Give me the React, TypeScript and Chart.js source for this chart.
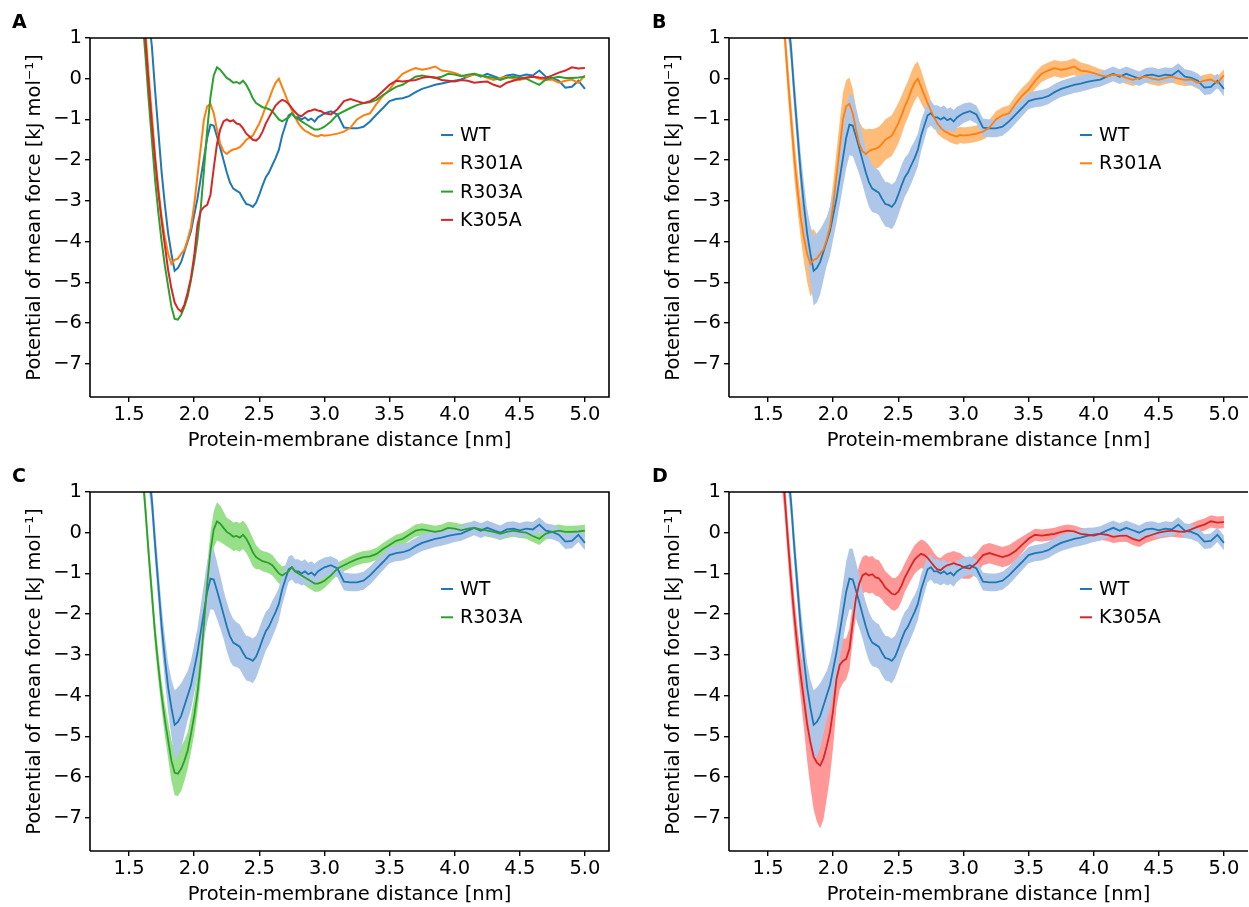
import React, { useEffect, useRef } from "react";
import { Chart, registerables } from "chart.js";
Chart.register(...registerables);

// Protein-membrane distance grid [nm]
const xGrid = [
  1.6, 1.625, 1.65, 1.675, 1.7, 1.725, 1.75, 1.775, 1.8, 1.825, 1.85, 1.875, 1.9, 1.925, 1.95, 1.975,
  2.0, 2.025, 2.05, 2.075, 2.1, 2.125, 2.15, 2.175, 2.2, 2.225, 2.25, 2.275, 2.3, 2.325, 2.35, 2.375,
  2.4, 2.425, 2.45, 2.475, 2.5, 2.525, 2.55, 2.575, 2.6, 2.625, 2.65, 2.675, 2.7, 2.725, 2.75, 2.775,
  2.8, 2.825, 2.85, 2.875, 2.9, 2.925, 2.95, 2.975, 3.0,
  3.05, 3.1, 3.15, 3.2, 3.25, 3.3, 3.35, 3.4, 3.45, 3.5, 3.55, 3.6, 3.65, 3.7, 3.75, 3.8, 3.85, 3.9, 3.95,
  4.0, 4.05, 4.1, 4.15, 4.2, 4.25, 4.3, 4.35, 4.4, 4.45, 4.5, 4.55, 4.6, 4.65, 4.7, 4.75, 4.8, 4.85, 4.9, 4.95, 5.0,
];

const wt = [
  3.0, 2.2, 1.5, 0.8, -0.3, -1.3, -2.3, -3.1, -3.8, -4.3, -4.72, -4.65, -4.5, -4.25, -4.0, -3.75,
  -3.35, -2.95, -2.45, -1.95, -1.45, -1.13, -1.15, -1.42, -1.7, -2.0, -2.3, -2.55, -2.7, -2.75, -2.8, -2.95,
  -3.08, -3.1, -3.15, -3.05, -2.85, -2.62, -2.42, -2.3, -2.12, -1.95, -1.75, -1.4, -1.15, -0.9, -0.85, -0.95,
  -0.95, -1.0, -0.95, -1.02, -0.98, -1.05, -0.95, -0.9, -0.85,
  -0.8, -0.88, -1.2, -1.22, -1.22, -1.18, -1.05, -0.88, -0.72, -0.55, -0.5, -0.48, -0.43, -0.33, -0.25, -0.2, -0.15, -0.12, -0.08,
  -0.05, -0.02, 0.05, 0.12, 0.05, 0.12, 0.06, 0.0, 0.08, 0.1, 0.06, 0.1, 0.08, 0.2, 0.05, 0.02, -0.05, -0.22, -0.2, -0.05, -0.25,
];

const r301a = [
  2.2, 1.2, 0.1, -0.9, -1.9, -2.7, -3.4, -3.9, -4.3, -4.55, -4.45, -4.42, -4.3, -4.2, -3.95, -3.65,
  -3.1, -2.4, -1.7, -1.0, -0.68, -0.62, -0.85, -1.25, -1.6, -1.78, -1.85, -1.78, -1.74, -1.72, -1.68, -1.6,
  -1.5, -1.45, -1.4, -1.25, -1.1, -0.9, -0.68, -0.5, -0.28, -0.1, 0.0, -0.2, -0.4, -0.6, -0.78, -0.95,
  -1.1, -1.2, -1.28, -1.32, -1.37, -1.4, -1.42, -1.38, -1.4,
  -1.38, -1.35, -1.3, -1.2, -1.0, -0.9, -0.85, -0.62, -0.42, -0.27, -0.05, 0.12, 0.2, 0.26, 0.22, 0.25, 0.3, 0.2, 0.18,
  0.14, 0.08, 0.05, 0.1, 0.08, 0.02, -0.03, 0.02, 0.05, 0.0, -0.03, 0.02, 0.05, 0.0, -0.03, -0.02, -0.1, -0.05, -0.02, -0.1, 0.08,
];

const r303a = [
  1.6, 0.6, -0.5, -1.5, -2.5, -3.3, -4.0, -4.6, -5.1, -5.6, -5.9, -5.92, -5.8, -5.6, -5.35, -4.95,
  -4.5, -3.95, -3.2, -2.25, -1.25, -0.45, 0.08, 0.28, 0.22, 0.12, 0.02, -0.03, -0.1, -0.08, -0.12, -0.05,
  -0.15, -0.3, -0.48, -0.6, -0.65, -0.7, -0.72, -0.75, -0.8, -0.9, -1.0, -1.05, -1.0, -0.95, -0.85, -0.95,
  -1.0, -1.05, -1.1, -1.15, -1.2, -1.25, -1.25, -1.22, -1.18,
  -1.05, -0.88, -0.8, -0.72, -0.65, -0.6, -0.58, -0.52, -0.4, -0.3, -0.2, -0.15, -0.05, 0.05, 0.08, 0.05, 0.02, 0.05, 0.12,
  0.1, 0.06, 0.1, 0.12, 0.08, 0.05, 0.02, -0.03, 0.02, 0.05, 0.02, 0.0, -0.08, -0.15, -0.02, 0.02, 0.05, 0.02, 0.02, 0.03, 0.05,
];

const k305a = [
  1.8, 1.0, -0.1, -1.1, -2.0, -2.8, -3.5, -4.1, -4.7, -5.15, -5.5, -5.65, -5.72, -5.55, -5.25, -4.9,
  -4.35, -3.6, -3.25, -3.15, -3.1, -2.85, -2.2, -1.6, -1.25, -1.05, -1.0, -1.05, -1.02, -1.1, -1.12, -1.22,
  -1.35, -1.42, -1.5, -1.52, -1.45, -1.3, -1.1, -0.95, -0.8, -0.66, -0.58, -0.52, -0.55, -0.62, -0.72, -0.82,
  -0.9, -0.92, -0.85, -0.8, -0.78, -0.75, -0.78, -0.8, -0.85,
  -0.88, -0.75, -0.55, -0.5, -0.55, -0.6, -0.55, -0.45, -0.3, -0.15, -0.05, -0.07, -0.05, -0.03, 0.02, 0.05, 0.03, -0.03, -0.05,
  -0.07, -0.03, -0.05, -0.1, -0.08, -0.07, -0.15, -0.2, -0.1, -0.05, 0.0, 0.03, 0.05, 0.03, 0.02, 0.08, 0.15, 0.2, 0.28, 0.25, 0.26,
];

// half-widths of the shaded uncertainty bands
const wtErr = [
  0.4, 0.4, 0.4, 0.4, 0.45, 0.45, 0.5, 0.55, 0.6, 0.7, 0.85, 0.85, 0.8, 0.7, 0.6, 0.6,
  0.6, 0.6, 0.65, 0.7, 0.75, 0.75, 0.75, 0.7, 0.65, 0.6, 0.6, 0.6, 0.58, 0.55, 0.55, 0.55,
  0.55, 0.55, 0.55, 0.52, 0.5, 0.5, 0.48, 0.45, 0.45, 0.42, 0.4, 0.38, 0.35, 0.32, 0.3, 0.3,
  0.3, 0.3, 0.3, 0.28, 0.28, 0.28, 0.26, 0.25, 0.24,
  0.22, 0.22, 0.22, 0.22, 0.22, 0.22, 0.22, 0.22, 0.2, 0.2, 0.2, 0.2, 0.2, 0.2, 0.2, 0.2, 0.2, 0.2, 0.2,
  0.18, 0.18, 0.18, 0.18, 0.18, 0.18, 0.18, 0.18, 0.18, 0.18, 0.18, 0.18, 0.18, 0.18, 0.18, 0.18, 0.18, 0.18, 0.18, 0.18, 0.18,
];

const r301aErr = [
  0.4, 0.4, 0.45, 0.45, 0.5, 0.5, 0.5, 0.6, 0.7, 0.8, 0.75, 0.6, 0.5, 0.5, 0.5, 0.5,
  0.55, 0.6, 0.65, 0.65, 0.65, 0.65, 0.6, 0.55, 0.55, 0.58, 0.6, 0.55, 0.5, 0.5, 0.5, 0.5,
  0.5, 0.5, 0.5, 0.5, 0.5, 0.48, 0.45, 0.45, 0.45, 0.45, 0.42, 0.4, 0.35, 0.3, 0.25, 0.25,
  0.25, 0.22, 0.2, 0.2, 0.2, 0.2, 0.2, 0.2, 0.2,
  0.2, 0.2, 0.2, 0.2, 0.2, 0.2, 0.2, 0.2, 0.2, 0.2, 0.2, 0.2, 0.2, 0.2, 0.2, 0.2, 0.2, 0.2, 0.18,
  0.16, 0.15, 0.15, 0.15, 0.15, 0.15, 0.15, 0.15, 0.15, 0.15, 0.15, 0.15, 0.15, 0.15, 0.15, 0.15, 0.15, 0.15, 0.15, 0.15, 0.15,
];

const r303aErr = [
  0.35, 0.35, 0.35, 0.35, 0.35, 0.35, 0.35, 0.4, 0.45, 0.5, 0.55, 0.55, 0.55, 0.5, 0.45, 0.45,
  0.45, 0.45, 0.45, 0.45, 0.45, 0.45, 0.45, 0.47, 0.45, 0.4, 0.35, 0.35, 0.35, 0.35, 0.35, 0.35,
  0.35, 0.35, 0.35, 0.3, 0.25, 0.25, 0.25, 0.25, 0.25, 0.25, 0.25, 0.22, 0.2, 0.2, 0.2, 0.2,
  0.2, 0.2, 0.2, 0.2, 0.2, 0.2, 0.2, 0.2, 0.18,
  0.15, 0.15, 0.15, 0.15, 0.15, 0.15, 0.15, 0.15, 0.15, 0.15, 0.15, 0.15, 0.15, 0.15, 0.15, 0.15, 0.15, 0.15, 0.15,
  0.15, 0.15, 0.15, 0.15, 0.15, 0.15, 0.15, 0.15, 0.15, 0.15, 0.15, 0.15, 0.15, 0.15, 0.15, 0.15, 0.15, 0.15, 0.15, 0.15, 0.15,
];

const k305aErr = [
  0.5, 0.5, 0.5, 0.5, 0.5, 0.5, 0.55, 0.7, 0.9, 1.1, 1.3, 1.45, 1.55, 1.5, 1.3, 1.1,
  0.9, 0.7, 0.6, 0.55, 0.5, 0.5, 0.45, 0.45, 0.45, 0.45, 0.45, 0.45, 0.45, 0.45, 0.45, 0.42,
  0.4, 0.4, 0.4, 0.4, 0.4, 0.38, 0.35, 0.35, 0.35, 0.35, 0.35, 0.35, 0.35, 0.35, 0.35, 0.32,
  0.3, 0.3, 0.3, 0.3, 0.3, 0.3, 0.3, 0.3, 0.28,
  0.25, 0.25, 0.25, 0.25, 0.25, 0.25, 0.25, 0.25, 0.2, 0.15, 0.15, 0.15, 0.15, 0.15, 0.15, 0.15, 0.15, 0.15, 0.15,
  0.15, 0.15, 0.15, 0.15, 0.15, 0.15, 0.15, 0.15, 0.15, 0.15, 0.15, 0.15, 0.15, 0.15, 0.15, 0.15, 0.15, 0.15, 0.15, 0.15, 0.15,
];

const xTicks = [1.5, 2.0, 2.5, 3.0, 3.5, 4.0, 4.5, 5.0];
const yTicks = [1, 0, -1, -2, -3, -4, -5, -6, -7];
const X_MIN = 1.2;
const X_MAX = 5.185;
const Y_MIN = -7.82;
const Y_MAX = 1;

const FONT = "'DejaVu Sans', 'Liberation Sans', sans-serif";
const FS = 19.5;

const C = {
  wt: "#1f77b4", wtBand: "#aec7e8",
  r301a: "#ff7f0e", r301aBand: "#ffbb78",
  r303a: "#2ca02c", r303aBand: "#98df8a",
  k305a: "#d62728", k305aBand: "#ff9896",
};

type Series = { label: string; ys: number[]; err: number[]; color: string; band: string };
const S: Record<string, Series> = {
  wt: { label: "WT", ys: wt, err: wtErr, color: C.wt, band: C.wtBand },
  r301a: { label: "R301A", ys: r301a, err: r301aErr, color: C.r301a, band: C.r301aBand },
  r303a: { label: "R303A", ys: r303a, err: r303aErr, color: C.r303a, band: C.r303aBand },
  k305a: { label: "K305A", ys: k305a, err: k305aErr, color: C.k305a, band: C.k305aBand },
};

// lower "order" is drawn on top in Chart.js
function lineDs(s: Series, width: number, order: number) {
  return {
    label: s.label,
    order,
    data: xGrid.map((x, i) => ({ x, y: s.ys[i] })),
    borderColor: s.color,
    borderWidth: width,
    pointRadius: 0,
    fill: false,
    tension: 0,
  };
}
function bandDs(s: Series, order: number) {
  return [
    {
      label: s.label + " upper",
      order,
      data: xGrid.map((x, i) => ({ x, y: s.ys[i] + s.err[i] })),
      borderWidth: 0,
      borderColor: "rgba(0,0,0,0)",
      pointRadius: 0,
      fill: false,
    },
    {
      label: s.label + " lower",
      order,
      data: xGrid.map((x, i) => ({ x, y: s.ys[i] - s.err[i] })),
      borderWidth: 0,
      borderColor: "rgba(0,0,0,0)",
      backgroundColor: s.band,
      pointRadius: 0,
      fill: "-1",
    },
  ];
}

type PanelProps = {
  left: number;
  top: number;
  width: number;
  letter: string;
  lines: Series[];
  bands: Series[];
  lineWidth: number;
  drawRight: boolean;
};

const PLOT_LEFT = 90;
const PLOT_TOP = 38;
const PLOT_RIGHT = 609;
const PLOT_BOTTOM = 397;
const H = 453;

function Panel(p: PanelProps) {
  const ref = useRef<HTMLCanvasElement | null>(null);
  useEffect(() => {
    if (!ref.current) return;
    const datasets: any[] = [];
    // first band in list drawn behind
    p.bands.forEach((b, i) => datasets.push(...bandDs(b, 100 - i)));
    // last line in list drawn on top
    p.lines.forEach((l, i) => datasets.push(lineDs(l, p.lineWidth, 50 - i)));

    const decor = {
      id: "decor" + p.letter,
      afterDraw(chart: any) {
        const ctx = chart.ctx;
        const a = chart.chartArea;
        ctx.save();
        // frame
        ctx.strokeStyle = "#000";
        ctx.lineWidth = 1.6;
        ctx.beginPath();
        ctx.moveTo(a.left, a.bottom);
        ctx.lineTo(a.left, a.top);
        ctx.lineTo(a.right, a.top);
        if (p.drawRight) ctx.lineTo(a.right, a.bottom);
        else ctx.moveTo(a.right, a.bottom);
        ctx.lineTo(a.left, a.bottom);
        ctx.stroke();
        // legend
        ctx.font = "19px " + FONT;
        ctx.textBaseline = "middle";
        ctx.textAlign = "left";
        p.lines.forEach((l, i) => {
          const y = a.top + 97 + i * 28.3;
          ctx.strokeStyle = l.color;
          ctx.lineWidth = 2;
          ctx.beginPath();
          ctx.moveTo(a.left + 351, y);
          ctx.lineTo(a.left + 363, y);
          ctx.stroke();
          ctx.fillStyle = "#000";
          ctx.fillText(l.label, a.left + 370, y + 1);
        });
        // panel letter
        ctx.font = "bold 19px " + FONT;
        ctx.textBaseline = "alphabetic";
        ctx.fillStyle = "#000";
        ctx.fillText(p.letter, p.left === 0 ? 12 : 13, 28);
        ctx.restore();
      },
    };

    const chart = new Chart(ref.current, {
      type: "line",
      data: { datasets },
      options: {
        animation: false,
        responsive: false,
        maintainAspectRatio: false,
        layout: { padding: { left: 0, top: PLOT_TOP, right: p.width - PLOT_RIGHT, bottom: 0 } },
        plugins: { legend: { display: false }, tooltip: { enabled: false } },
        scales: {
          x: {
            type: "linear",
            min: X_MIN,
            max: X_MAX,
            afterFit: (s: any) => { s.height = H - PLOT_BOTTOM; },
            afterBuildTicks: (s: any) => { s.ticks = xTicks.map((v) => ({ value: v })); },
            border: { display: false },
            grid: { drawOnChartArea: false, drawTicks: true, tickLength: 5, color: "#000", lineWidth: 1.4 },
            ticks: {
              color: "#000",
              font: { family: FONT, size: FS },
              padding: 1,
              maxRotation: 0,
              autoSkip: false,
              callback: (v: any) => Number(v).toFixed(1),
            },
            title: {
              display: true,
              text: "Protein-membrane distance [nm]",
              color: "#000",
              font: { family: FONT, size: FS },
              padding: { top: 0, bottom: 0 },
            },
          },
          y: {
            type: "linear",
            min: Y_MIN,
            max: Y_MAX,
            afterFit: (s: any) => { s.width = PLOT_LEFT; },
            afterBuildTicks: (s: any) => { s.ticks = yTicks.map((v) => ({ value: v })); },
            border: { display: false },
            grid: { drawOnChartArea: false, drawTicks: true, tickLength: 5, color: "#000", lineWidth: 1.4 },
            ticks: {
              color: "#000",
              font: { family: FONT, size: FS },
              padding: 3,
              autoSkip: false,
              callback: (v: any) => (Number(v) < 0 ? "\u2212" + Math.abs(Number(v)) : String(v)),
            },
            title: {
              display: true,
              text: "Potential of mean force [kJ mol\u207B\u00B9]",
              color: "#000",
              font: { family: FONT, size: FS },
              padding: { top: 23, bottom: 0 },
            },
          },
        },
      },
      plugins: [decor],
    } as any);
    return () => chart.destroy();
  }, []);
  return (
    <canvas
      ref={ref}
      width={p.width}
      height={H}
      style={{ position: "absolute", left: p.left, top: p.top, width: p.width, height: H }}
    />
  );
}

export default function App() {
  return (
    <div
      style={{
        position: "fixed",
        left: 0,
        top: 0,
        width: 1249,
        height: 907,
        overflow: "hidden",
        background: "#fff",
      }}
    >
      <Panel left={0} top={0} width={624} letter="A" lines={[S.wt, S.r301a, S.r303a, S.k305a]} bands={[]} lineWidth={2} drawRight={true} />
      <Panel left={639} top={0} width={610} letter="B" lines={[S.wt, S.r301a]} bands={[S.r301a, S.wt]} lineWidth={1.8} drawRight={false} />
      <Panel left={0} top={454} width={624} letter="C" lines={[S.wt, S.r303a]} bands={[S.r303a, S.wt]} lineWidth={1.8} drawRight={true} />
      <Panel left={639} top={454} width={610} letter="D" lines={[S.wt, S.k305a]} bands={[S.k305a, S.wt]} lineWidth={1.8} drawRight={false} />
    </div>
  );
}
